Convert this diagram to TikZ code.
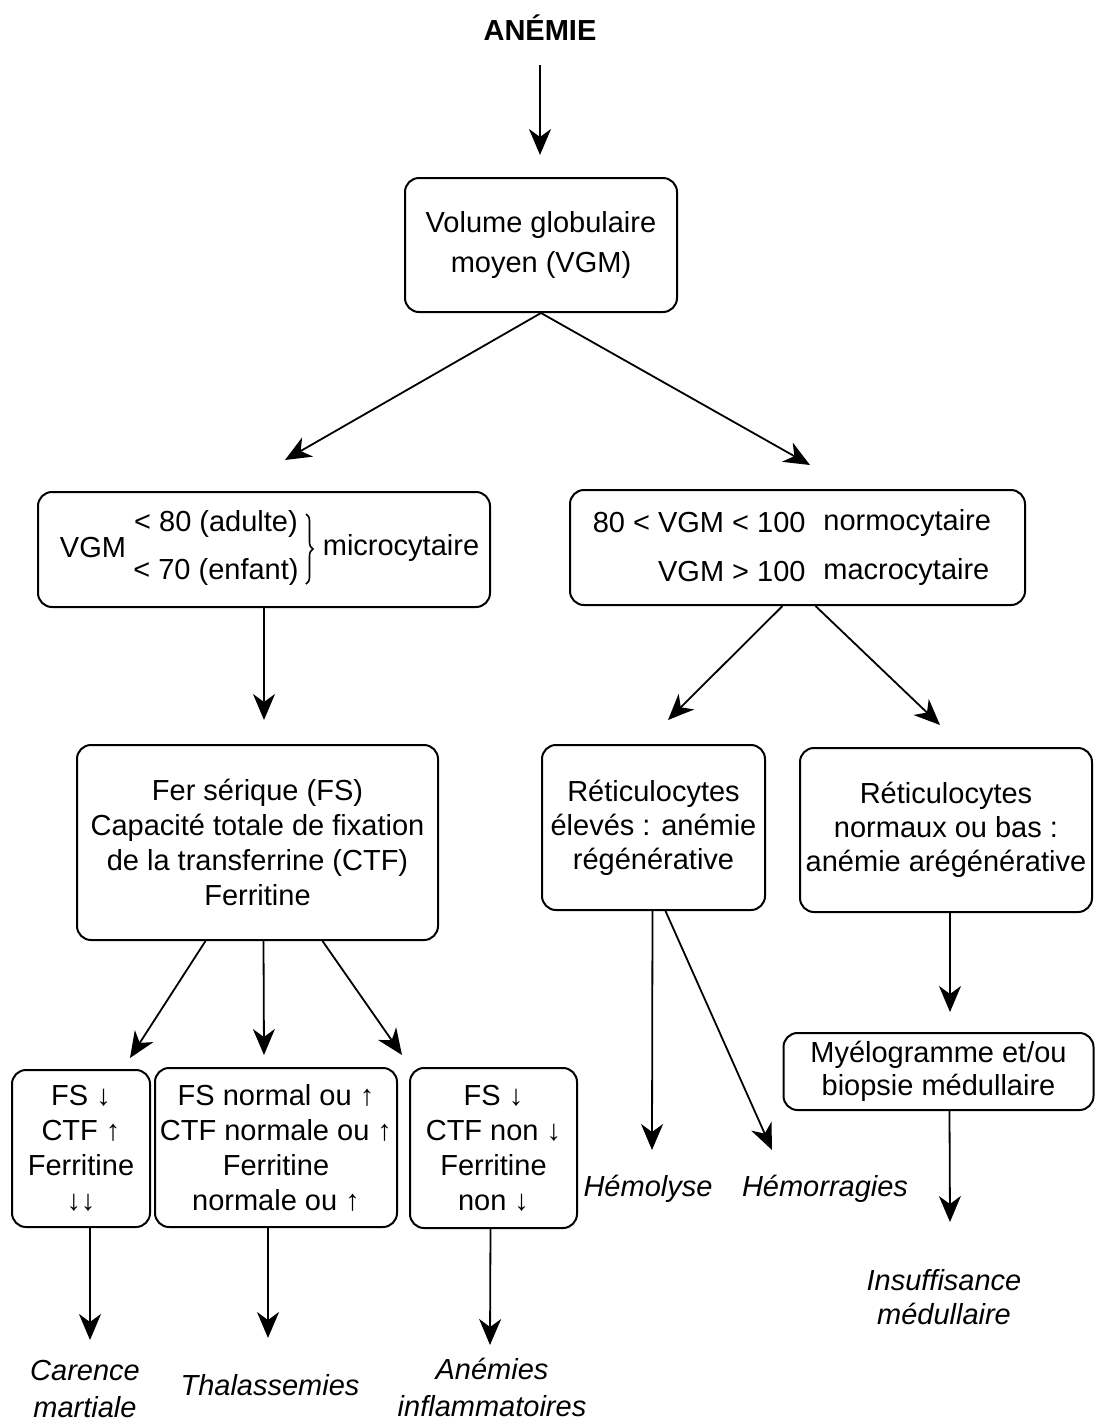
\documentclass[tikz,border=0pt]{standalone}
\usepackage{fontspec}
\setmainfont{Liberation Sans}
\usetikzlibrary{arrows.meta,decorations.pathreplacing,calc}
\begin{document}
\begin{tikzpicture}[x=0.5pt,y=-0.5pt,
  box/.style={draw,line width=1pt,rounded corners=7pt,align=center,inner sep=0pt,font=\fontsize{14.5}{17.5}\selectfont},
  arr/.style={line width=0.9pt,-{Stealth[length=13pt,width=11pt,inset=4pt]}},
  lbl/.style={font=\fontsize{14.5}{18.5}\selectfont\itshape,align=center,inner sep=0pt},
  txt/.style={font=\fontsize{14.5}{17.5}\selectfont,inner sep=0pt}]
\useasboundingbox (0,0) rectangle (1095,1421);

% nodes
\node[txt,font=\fontsize{14.5}{17.5}\selectfont\bfseries] (anemie) at (540,28) {ANÉMIE};
\node[box,minimum width=136pt,minimum height=67pt,font=\fontsize{14.5}{20}\selectfont] (vgm) at (541,245) {Volume globulaire\\moyen (VGM)};

\node[box,minimum width=226pt,minimum height=57.5pt] (micro) at (264,549.5) {};
\node[txt] (vgmlbl) at (93,548) {VGM};
\node[txt] (adulte) at (216,524) {< 80 (adulte)};
\node[txt] (enfant) at (216,572) {< 70 (enfant)};
\coordinate (bra) at (306,514);
\coordinate (brb) at (306,584);
\draw[line width=0.8pt,decorate,decoration={brace,amplitude=3.5pt}] (bra) -- (brb);
\node[txt] (microlbl) at (401,548) {microcytaire};

\node[box,minimum width=227.5pt,minimum height=57.5pt] (normo) at (797.5,547.5) {};
\node[txt,anchor=east] (n1a) at (806,523) {80 < VGM < 100};
\node[txt,anchor=west] (n1b) at (823,523) {normocytaire};
\node[txt,anchor=east] (n2a) at (806,572) {VGM > 100};
\node[txt,anchor=west] (n2b) at (823,572) {macrocytaire};

\node[box,minimum width=180.5pt,minimum height=97.5pt] (fs) at (257.5,842.5) {Fer sérique (FS)\\Capacité totale de fixation\\de la transferrine (CTF)\\Ferritine};

\node[box,minimum width=69pt,minimum height=78.5pt] (b1) at (81,1148.5) {FS ↓\\CTF ↑\\Ferritine\\↓↓};
\node[box,minimum width=121pt,minimum height=79.5pt] (b2) at (276,1147.5) {FS normal ou ↑\\CTF normale ou ↑\\Ferritine\\normale ou ↑};
\node[box,minimum width=83.5pt,minimum height=80pt] (b3) at (493.5,1148) {FS ↓\\CTF non ↓\\Ferritine\\non ↓};

\node[box,minimum width=111.5pt,minimum height=82.5pt,font=\fontsize{14.5}{17}\selectfont] (r1) at (653.5,827.5) {Réticulocytes\\élevés : anémie\\régénérative};
\node[box,minimum width=146pt,minimum height=82pt,font=\fontsize{14.5}{17}\selectfont] (r2) at (946,830) {Réticulocytes\\normaux ou bas :\\anémie arégénérative};
\node[box,minimum width=155pt,minimum height=38.5pt,font=\fontsize{14.5}{16.5}\selectfont] (myelo) at (938.5,1071.5) {Myélogramme et/ou\\biopsie médullaire};

\node[lbl] (carence) at (85,1389) {Carence\\martiale};
\node[lbl] (thal) at (270,1385) {Thalassemies};
\node[lbl] (inflam) at (492,1387) {Anémies\\inflammatoires};
\node[lbl] (hemol) at (648,1189) {Hémolyse};
\node[lbl] (hemor) at (825,1189) {Hémorragies};
\node[lbl,font=\fontsize{14.5}{17}\selectfont\itshape] (insuf) at (944,1297) {Insuffisance\\médullaire};

% arrow tips
\coordinate (t0) at (540,155);
\coordinate (t1) at (285,460);
\coordinate (t2) at (810,465);
\coordinate (t3) at (264,720);
\coordinate (t4) at (130,1058);
\coordinate (t5) at (264,1055);
\coordinate (t6) at (402,1055);
\coordinate (t7) at (90,1340);
\coordinate (t8) at (268,1338);
\coordinate (t9) at (490,1345);
\coordinate (t10) at (668,720);
\coordinate (t11) at (940,725);
\coordinate (t12) at (652,1150);
\coordinate (t13) at (772,1150);
\coordinate (t14) at (950,1012);
\coordinate (t15) at (950,1222);

% connectors
\draw[arr,shorten <=12pt] (anemie.south) -- (t0);
\draw[arr] (vgm.south) -- (t1);
\draw[arr] (vgm.south) -- (t2);
\draw[arr] (micro.south) -- (t3);
\draw[arr] ($(fs.south)+(-52,0)$) -- (t4);
\draw[arr] ($(fs.south)+(6,0)$) -- (t5);
\draw[arr] ($(fs.south)+(65,0)$) -- (t6);
\draw[arr] ($(b1.south)+(9,0)$) -- (t7);
\draw[arr] ($(b2.south)+(-8,0)$) -- (t8);
\draw[arr] ($(b3.south)+(-3,0)$) -- (t9);
\draw[arr] ($(normo.south)+(-15,0)$) -- (t10);
\draw[arr] ($(normo.south)+(18,0)$) -- (t11);
\draw[arr] ($(r1.south)+(-1,0)$) -- (t12);
\draw[arr] ($(r1.south)+(12,0)$) -- (t13);
\draw[arr] ($(r2.south)+(4,0)$) -- (t14);
\draw[arr] ($(myelo.south)+(11,0)$) -- (t15);
\end{tikzpicture}
\end{document}
